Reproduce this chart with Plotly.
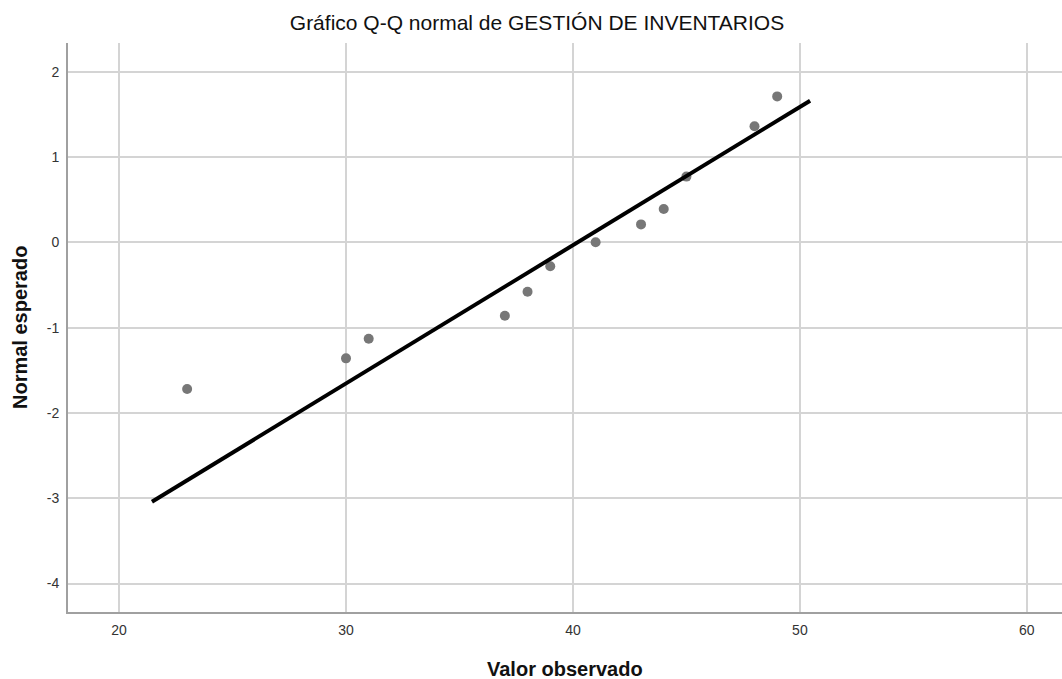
import plotly.graph_objects as go

observed = [23, 30, 31, 37, 38, 39, 41, 43, 44, 45, 48, 49]
expected = [-1.72, -1.36, -1.13, -0.86, -0.58, -0.28, 0.0, 0.21, 0.39, 0.77, 1.36, 1.71]
line_x = [21.45, 50.45]
line_y = [-3.04, 1.66]
x_ticks = [20, 30, 40, 50, 60]
y_ticks = [-4, -3, -2, -1, 0, 1, 2]
y_tick_text = ["-4", "-3", "-2", "-1", "0", "1", "2"]

FONT = "Liberation Sans, Arial, sans-serif"
W, H = 1062, 679
L, R, T, B = 68, 0, 43, 67

fig = go.Figure()
fig.add_trace(go.Scatter(x=observed, y=expected, mode="markers",
                         marker=dict(color="#777777", size=10), showlegend=False))
fig.add_trace(go.Scatter(x=line_x, y=line_y, mode="lines",
                         line=dict(color="black", width=4), showlegend=False))

fig.update_layout(
    width=W, height=H,
    margin=dict(l=L, r=R, t=T, b=B),
    paper_bgcolor="white", plot_bgcolor="white",
    font=dict(family=FONT, color="#222222"),
    title=dict(text="Gráfico Q-Q normal de GESTIÓN DE INVENTARIOS",
               x=537 / W, xanchor="center", y=1 - 23 / H, yanchor="middle",
               xref="container", yref="container",
               font=dict(size=21, family=FONT, color="#111111")),
    xaxis=dict(range=[17.75, 61.55], tickvals=x_ticks, showgrid=True,
               gridcolor="#d4d4d4", gridwidth=1.5, zeroline=False,
               showline=True, linecolor="#a0a0a0", linewidth=2,
               ticks="", ticklabelstandoff=4,
               tickfont=dict(size=14, color="#333333")),
    yaxis=dict(range=[-4.333, 2.336], tickvals=y_ticks, ticktext=y_tick_text,
               showgrid=True,
               gridcolor="#d4d4d4", gridwidth=1.5, zeroline=False,
               showline=True, linecolor="#a0a0a0", linewidth=2,
               ticks="", ticklabelstandoff=4,
               tickfont=dict(size=14, color="#333333")),
    annotations=[
        dict(text="<b>Valor observado</b>", xref="paper", yref="paper",
             x=0.5, y=-(669 - (H - B)) / (H - T - B), xanchor="center", yanchor="middle",
             showarrow=False, font=dict(size=20, family=FONT, color="#111111")),
        dict(text="<b>Normal esperado</b>", xref="paper", yref="paper",
             x=-(L - 19.5) / (W - L - R), y=0.5, xanchor="center", yanchor="middle",
             textangle=-90, showarrow=False,
             font=dict(size=20, family=FONT, color="#111111")),
    ],
)

fig.write_html("out.html")
